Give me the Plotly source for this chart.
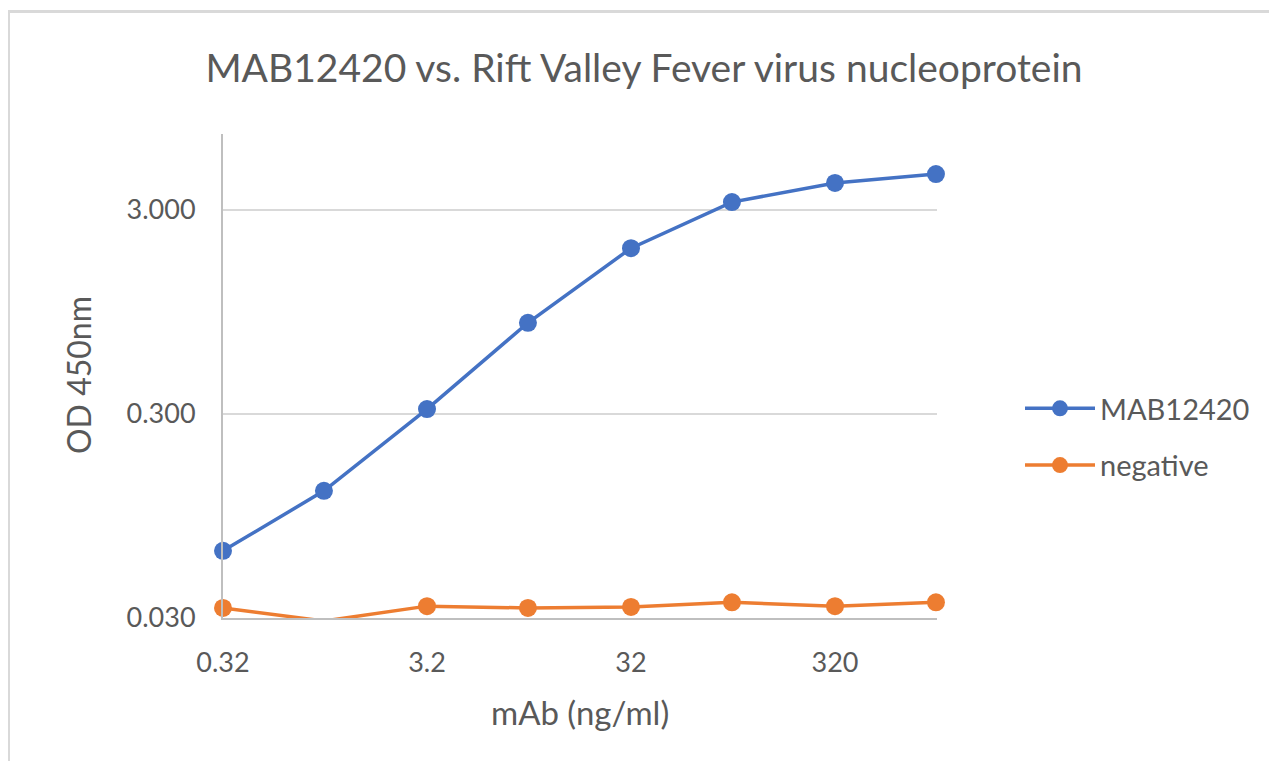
import numpy as np
import plotly.graph_objects as go

# ---- data ----
conc = [0.32, 1.0, 3.2, 10, 32, 100, 320, 1000]
mab12420 = [0.064, 0.126, 0.317, 0.84, 1.95, 3.28, 4.07, 4.50]
negative = [0.0336, 0.0290, 0.0343, 0.0336, 0.0340, 0.0358, 0.0343, 0.0358]
x_ticks = [0.32, 3.2, 32, 320]
x_ticktext = ["0.32", "3.2", "32", "320"]
y_ticks = [0.03, 0.3, 3.0]
y_ticktext = ["0.030", "0.300", "3.000"]

OFF = 8  # page body margin
W, H = 1277 - 2 * OFF, 769 - 2 * OFF
# plot area in screen pixels
L, R, T, B = 223, 937, 134, 618
FONT = "Lato"
GREY = "#595959"

fig = go.Figure()
fig.add_trace(go.Scatter(
    x=conc, y=mab12420, name="MAB12420", mode="lines+markers",
    line=dict(color="#4472C4", width=3.5),
    marker=dict(color="#4472C4", size=18),
    cliponaxis=False, legendgroup="a"))
fig.add_trace(go.Scatter(
    x=conc, y=negative, name="negative", mode="lines+markers",
    line=dict(color="#ED7D31", width=3.5),
    marker=dict(color="#ED7D31", size=18),
    cliponaxis=False, legendgroup="b"))

pw, ph = R - L, B - T
dec = 204.0
ymin = np.log10(0.03)
ymax = ymin + ph / dec
xmin = np.log10(0.32)
xmax = xmin + pw / dec

def px_x(p):
    return (p - L) / pw

def px_y(p):
    return (B - p) / ph

fig.update_layout(
    width=W, height=H,
    margin=dict(l=L - OFF, r=W - (R - OFF), t=T - OFF, b=H - (B - OFF), pad=0),
    paper_bgcolor="white", plot_bgcolor="white",
    font=dict(family=FONT, color=GREY, size=27),
    title=dict(text="MAB12420 vs. Rift Valley Fever virus nucleoprotein",
               x=(644 - OFF) / W, xref="container", xanchor="center",
               y=1 - (68 - OFF) / H, yref="container", yanchor="middle",
               font=dict(family=FONT, size=39, color=GREY)),
    xaxis=dict(type="log", range=[xmin, xmax], tickvals=x_ticks, ticktext=x_ticktext,
               showgrid=False, zeroline=False, showline=True, linecolor="#BFBFBF",
               linewidth=2, ticks="", ticklabelstandoff=20,
               tickfont=dict(size=27, color=GREY, family=FONT)),
    yaxis=dict(type="log", range=[ymin, ymax], tickvals=y_ticks, ticktext=y_ticktext,
               showgrid=True, gridcolor="#D9D9D9", gridwidth=1.6,
               zeroline=False, showline=True, linecolor="#BFBFBF", linewidth=2,
               ticks="", ticklabelstandoff=20,
               tickfont=dict(size=27, color=GREY, family=FONT)),
    legend=dict(x=px_x(1020), y=px_y(437), xanchor="left", yanchor="middle",
                font=dict(size=29, color=GREY, family=FONT),
                tracegroupgap=16, bgcolor="rgba(0,0,0,0)", itemwidth=70),
    showlegend=True,
)

fig.add_annotation(text="OD 450nm", textangle=-90, xref="paper", yref="paper",
                   x=px_x(78), y=px_y(375), xanchor="center", yanchor="middle",
                   showarrow=False, font=dict(size=32, color=GREY, family=FONT))
fig.add_annotation(text="mAb (ng/ml)", xref="paper", yref="paper",
                   x=px_x(580), y=px_y(712), xanchor="center", yanchor="middle",
                   showarrow=False, font=dict(size=33, color=GREY, family=FONT))

# chart-area border
fig.add_shape(type="rect", xref="paper", yref="paper",
              x0=px_x(8.5), x1=px_x(1320), y0=px_y(820), y1=px_y(11.5),
              line=dict(color="#D9D9D9", width=3), layer="below")

fig.write_html("out.html")
